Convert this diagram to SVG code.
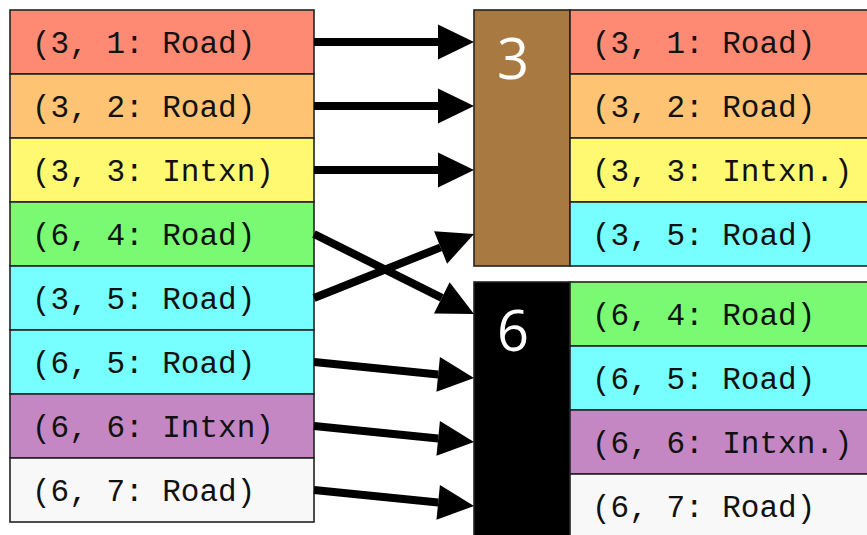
<svg xmlns="http://www.w3.org/2000/svg" width="867" height="535" viewBox="0 0 867 535">
  <style>
    .cell { stroke: #222; stroke-width: 1.6; }
    .lbl { font-family: "Liberation Mono", "Courier New", monospace; font-size: 31px; fill: #111; }
    .grp { font-family: "Open Sans", "Noto Sans", sans-serif; font-size: 56px; fill: #fff; text-anchor: middle; }
    .edge { stroke: #000; stroke-width: 8; fill: none; marker-end: url(#head); }
    .c1 { fill: #ff8a74; } .c2 { fill: #fec473; } .c3 { fill: #fff972; } .c4 { fill: #79fa72; }
    .c5 { fill: #77ffff; } .c6 { fill: #c487c3; } .c7 { fill: #f8f8f8; }
  </style>
  <defs>
    <marker id="head" viewBox="0 0 36 35" refX="0" refY="17.5" markerWidth="36" markerHeight="35" markerUnits="userSpaceOnUse" orient="auto" overflow="visible">
      <path d="M0,0 L36,17.5 L0,35 z" fill="#000"/>
    </marker>
  </defs>
  <rect width="867" height="535" fill="#fff"/>

  <!-- source list -->
  <g id="src-3-1"><rect class="cell c1" x="10" y="10" width="304" height="64"/><text class="lbl" x="32" y="53">(3, 1: Road)</text></g>
  <g id="src-3-2"><rect class="cell c2" x="10" y="74" width="304" height="64"/><text class="lbl" x="32" y="117">(3, 2: Road)</text></g>
  <g id="src-3-3"><rect class="cell c3" x="10" y="138" width="304" height="64"/><text class="lbl" x="32" y="181">(3, 3: Intxn)</text></g>
  <g id="src-6-4"><rect class="cell c4" x="10" y="202" width="304" height="64"/><text class="lbl" x="32" y="245">(6, 4: Road)</text></g>
  <g id="src-3-5"><rect class="cell c5" x="10" y="266" width="304" height="64"/><text class="lbl" x="32" y="309">(3, 5: Road)</text></g>
  <g id="src-6-5"><rect class="cell c5" x="10" y="330" width="304" height="64"/><text class="lbl" x="32" y="373">(6, 5: Road)</text></g>
  <g id="src-6-6"><rect class="cell c6" x="10" y="394" width="304" height="64"/><text class="lbl" x="32" y="437">(6, 6: Intxn)</text></g>
  <g id="src-6-7"><rect class="cell c7" x="10" y="458" width="304" height="64"/><text class="lbl" x="32" y="501">(6, 7: Road)</text></g>

  <!-- group 3 -->
  <g id="group-3">
    <rect class="cell" x="474" y="10" width="96" height="256" fill="#a87941"/>
    <text class="grp" x="513" y="79">3</text>
  </g>
  <g id="g3-1"><rect class="cell c1" x="570" y="10" width="320" height="64"/><text class="lbl" x="592" y="53">(3, 1: Road)</text></g>
  <g id="g3-2"><rect class="cell c2" x="570" y="74" width="320" height="64"/><text class="lbl" x="592" y="117">(3, 2: Road)</text></g>
  <g id="g3-3"><rect class="cell c3" x="570" y="138" width="320" height="64"/><text class="lbl" x="592" y="181">(3, 3: Intxn.)</text></g>
  <g id="g3-5"><rect class="cell c5" x="570" y="202" width="320" height="64"/><text class="lbl" x="592" y="245">(3, 5: Road)</text></g>

  <!-- group 6 -->
  <g id="group-6">
    <rect class="cell" x="474" y="282" width="96" height="270" fill="#000"/>
    <text class="grp" x="513" y="351">6</text>
  </g>
  <g id="g6-4"><rect class="cell c4" x="570" y="282" width="320" height="64"/><text class="lbl" x="592" y="325">(6, 4: Road)</text></g>
  <g id="g6-5"><rect class="cell c5" x="570" y="346" width="320" height="64"/><text class="lbl" x="592" y="389">(6, 5: Road)</text></g>
  <g id="g6-6"><rect class="cell c6" x="570" y="410" width="320" height="64"/><text class="lbl" x="592" y="453">(6, 6: Intxn.)</text></g>
  <g id="g6-7"><rect class="cell c7" x="570" y="474" width="320" height="64"/><text class="lbl" x="592" y="517">(6, 7: Road)</text></g>

  <!-- connectors: each line stops at the arrowhead base -->
  <g id="edges">
    <line class="edge" x1="314" y1="42" x2="438" y2="42"/>
    <line class="edge" x1="314" y1="106" x2="438" y2="106"/>
    <line class="edge" x1="314" y1="170" x2="438" y2="170"/>
    <line class="edge" x1="314" y1="298" x2="440.6" y2="247.4"/>
    <line class="edge" x1="314" y1="234" x2="441.8" y2="297.9"/>
    <line class="edge" x1="314" y1="362" x2="438.2" y2="374.4"/>
    <line class="edge" x1="314" y1="426" x2="438.2" y2="438.4"/>
    <line class="edge" x1="314" y1="490" x2="438.2" y2="502.4"/>
  </g>
</svg>
